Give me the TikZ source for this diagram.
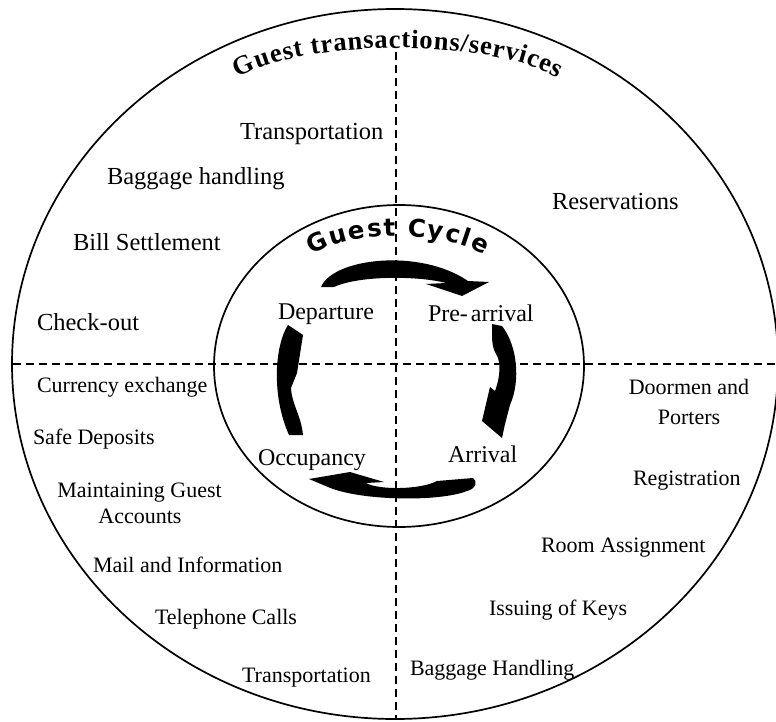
\documentclass[tikz,border=0pt]{standalone}
\usepackage{fontspec}
\setmainfont{Liberation Serif}
\newfontfamily\gcyclefam{DejaVu Sans}
\usetikzlibrary{decorations.text}
\newcommand\gtitlefont{\fontsize{26.5}{28}\selectfont\bfseries}
\newcommand\gcyclefont{\gcyclefam\fontsize{24.5}{25}\selectfont\bfseries}
\tikzset{
  lbl/.style={anchor=base west, inner sep=0pt, outer sep=0pt, font=\fontsize{24.5}{29}\selectfont},
  lblin/.style={anchor=base west, inner sep=0pt, outer sep=0pt, font=\fontsize{24}{29}\selectfont},
  lblsm/.style={anchor=base west, inner sep=0pt, outer sep=0pt, font=\fontsize{22}{26}\selectfont},
  lblsmc/.style={anchor=base, inner sep=0pt, outer sep=0pt, font=\fontsize{22}{26}\selectfont},
  ring/.style={line width=1.7pt},
  divider/.style={line width=1.5pt, dash pattern=on 8pt off 5pt},
  cyclearrow/.style={fill=black, draw=none},
}
\begin{document}
\begin{tikzpicture}[x=1pt,y=-1pt]
\useasboundingbox (0,0) rectangle (776,722);
\fill[white] (0,0) rectangle (776,722);
% rings
\draw[ring] (395,364) ellipse [x radius=383, y radius=355];
\draw[ring] (399,366) ellipse [x radius=185, y radius=161];
% dividers
\coordinate (hl) at (13,364);
\coordinate (hr) at (778,364);
\coordinate (vt) at (396,52);
\coordinate (vb) at (396,719);
\draw[divider] (hl) -- (hr);
\draw[divider] (vt) -- (vb);
% curved block arrows of the guest cycle
\path[cyclearrow] (321,287) .. controls (333,258) and (420,248) .. (468,281)
  -- (489,282) -- (462,296) -- (426,284) -- (446,283)
  .. controls (420,276) and (360,275) .. (334,287) -- cycle;
\path[cyclearrow] (492,324) -- (502,326) .. controls (517,345) and (521,380) .. (510,405)
  -- (505,424) -- (502,438) -- (482,421) -- (490,387) -- (495,391)
  .. controls (499,380) and (501,368) .. (498,358) -- (494,350)
  .. controls (492,342) .. (492,324) -- cycle;
\path[cyclearrow] (309,479) -- (350,472) -- (384,482) -- (366,483)
  .. controls (378,490) and (420,490) .. (437,481) -- (473,478)
  .. controls (478,481) and (476,489) .. (467,491)
  .. controls (440,502) and (360,501) .. (328,487) -- cycle;
\path[cyclearrow] (289,435) -- (303,435) .. controls (301,415) and (292,405) .. (291,388)
  -- (297,373) -- (303,335) -- (288,325)
  .. controls (275,345) and (271,395) .. (289,435) -- cycle;
% arched titles
\path[decorate, decoration={text along path, text align={fit to path},
  text={|\gtitlefont|Guest transactions/services}}]
  (398,103.4) ++(207.3:180 and 55.4) arc [start angle=207.3, end angle=332.7, x radius=180, y radius=55.4];
\path[decorate, decoration={text along path, text align={fit to path},
  text={|\gcyclefont|Guest Cycle}}]
  (398,274.8) ++(210.7:100 and 38.8) arc [start angle=210.7, end angle=329.3, x radius=100, y radius=38.8];
% upper left
\node[lbl] (t1) at (240,140) {Transportation};
\node[lbl] (t2) at (107,185) {Baggage handling};
\node[lbl] (t3) at (73,250) {Bill Settlement};
\node[lbl] (t4) at (37,330) {Check-out};
% upper right
\node[lbl] (t5) at (552,210) {Reservations};
% cycle stages
\node[lblin] (c1) at (278,319) {Departure};
\node[lblin] (c2) at (428,321) {Pre-\kern3pt arrival};
\node[lblin] (c3) at (258,465) {Occupancy};
\node[lblin] (c4) at (448,462) {Arrival};
% lower left
\node[lblsm] (l1) at (37,392) {Currency exchange};
\node[lblsm] (l2) at (33,444) {Safe Deposits};
\node[lblsmc] (l3a) at (139.5,497) {Maintaining Guest};
\node[lblsmc] (l3b) at (140,523) {Accounts};
\node[lblsm] (l4) at (93,572) {Mail and Information};
\node[lblsm] (l5) at (155,624) {Telephone Calls};
\node[lblsm] (l6) at (242,682) {Transportation};
% lower right
\node[lblsmc] (r1a) at (689,394) {Doormen and};
\node[lblsmc] (r1b) at (689,424) {Porters};
\node[lblsm] (r2) at (633,485) {Registration};
\node[lblsm] (r3) at (541,552) {Room Assignment};
\node[lblsm] (r4) at (489,615) {Issuing of Keys};
\node[lblsm] (r5) at (410,675) {Baggage Handling};
\end{tikzpicture}
\end{document}
